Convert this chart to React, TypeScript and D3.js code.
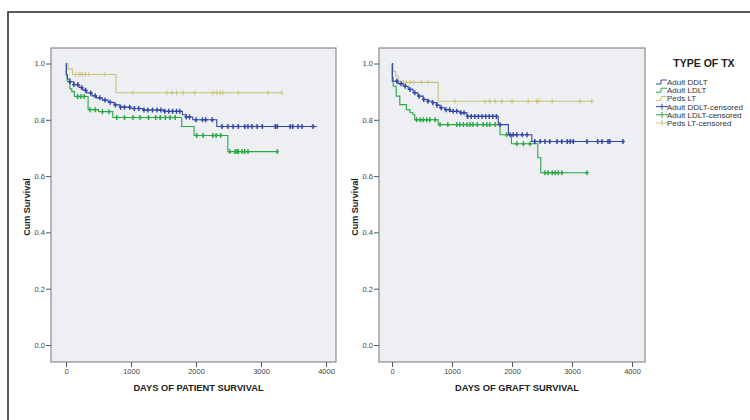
import React, { useEffect, useRef } from "react";
import * as d3 from "d3";

// group labels / colours
const groups = ["Adult DDLT", "Adult LDLT", "Peds LT"];
const colors = ["#3346a8", "#2aa845", "#c9c27a"];
const xTicks = [0, 1000, 2000, 3000, 4000];
const yTicks = [0, 0.2, 0.4, 0.6, 0.8, 1.0];

// patient survival: step points [day, survival], last point is end of follow-up
const patientDDLT = [[0, 1], [5, 0.96], [20, 0.945], [60, 0.935], [120, 0.925], [200, 0.915], [260, 0.905], [320, 0.895], [400, 0.885], [470, 0.878], [560, 0.87], [650, 0.862], [740, 0.853], [830, 0.845], [1000, 0.84], [1180, 0.835], [1500, 0.83], [1790, 0.818], [1850, 0.81], [1950, 0.8], [2320, 0.776], [3860, 0.776]];
const patientLDLT = [[0, 1], [5, 0.96], [20, 0.935], [60, 0.91], [90, 0.9], [130, 0.883], [340, 0.836], [500, 0.829], [720, 0.808], [1780, 0.776], [1970, 0.744], [2490, 0.687], [3250, 0.687]];
const patientPeds = [[0, 1], [30, 0.98], [100, 0.961], [770, 0.896], [3320, 0.896]];

const patientDDLTcens = [60, 120, 180, 240, 300, 380, 450, 520, 600, 680, 760, 840, 900, 980, 1050, 1120, 1200, 1260, 1330, 1400, 1460, 1520, 1580, 1640, 1700, 1750, 1850, 1900, 2000, 2100, 2150, 2250, 2400, 2490, 2570, 2650, 2750, 2800, 2860, 2940, 3020, 3220, 3250, 3450, 3490, 3570, 3630, 3800];
const patientLDLTcens = [180, 230, 280, 370, 450, 560, 660, 780, 900, 1030, 1140, 1270, 1380, 1450, 1530, 1600, 1680, 2010, 2110, 2260, 2310, 2380, 2520, 2600, 2630, 2650, 2710, 2750, 2800, 3250];
const patientPedsCens = [150, 200, 230, 260, 300, 350, 600, 1030, 1550, 1630, 1700, 1800, 1980, 2260, 2320, 2370, 2410, 2650, 3110, 3320];

// graft survival
const graftDDLT = [[0, 1], [5, 0.937], [100, 0.928], [190, 0.919], [270, 0.908], [350, 0.896], [430, 0.884], [520, 0.872], [600, 0.866], [680, 0.861], [750, 0.852], [800, 0.843], [880, 0.836], [970, 0.83], [1130, 0.825], [1250, 0.812], [1770, 0.783], [1940, 0.747], [2330, 0.723], [3850, 0.723]];
const graftLDLT = [[0, 1], [5, 0.95], [20, 0.919], [70, 0.884], [130, 0.854], [240, 0.836], [300, 0.825], [350, 0.818], [380, 0.8], [770, 0.783], [1800, 0.747], [1990, 0.715], [2430, 0.665], [2480, 0.612], [3240, 0.612]];
const graftPeds = [[0, 1], [20, 0.972], [60, 0.955], [100, 0.933], [770, 0.866], [3330, 0.866]];

const graftDDLTcens = [80, 150, 220, 300, 380, 450, 530, 600, 680, 750, 820, 900, 960, 1020, 1080, 1150, 1200, 1260, 1320, 1380, 1440, 1500, 1560, 1620, 1680, 1740, 1800, 1970, 2020, 2080, 2170, 2250, 2380, 2470, 2550, 2630, 2750, 2830, 2920, 2970, 3020, 3250, 3430, 3500, 3600, 3630, 3850];
const graftLDLTcens = [410, 470, 520, 580, 630, 720, 800, 930, 1080, 1130, 1190, 1250, 1300, 1350, 1420, 1520, 1580, 1630, 1720, 1910, 2080, 2190, 2300, 2550, 2600, 2670, 2720, 2770, 2830, 3250];
const graftPedsCens = [130, 190, 240, 300, 350, 490, 600, 1050, 1550, 1630, 1720, 1830, 2000, 2270, 2410, 2440, 2670, 3130, 3330];

const panels = [
  { title: "DAYS OF PATIENT SURVIVAL", curves: [patientDDLT, patientLDLT, patientPeds], cens: [patientDDLTcens, patientLDLTcens, patientPedsCens], left: 51, right: 336, x0: 66, x4: 326 },
  { title: "DAYS OF GRAFT SURVIVAL", curves: [graftDDLT, graftLDLT, graftPeds], cens: [graftDDLTcens, graftLDLTcens, graftPedsCens], left: 379, right: 645, x0: 392, x4: 632 },
];

const FONT = "Arial, 'Liberation Sans', sans-serif";

function survivalAt(curve, t) {
  let s = 1;
  for (const p of curve) if (p[0] <= t) s = p[1];
  return s;
}

export default function App() {
  const ref = useRef(null);

  useEffect(() => {
    const svg = d3.select(ref.current);
    svg.selectAll("*").remove();

    // outer frame
    svg.append("rect").attr("x", 8).attr("y", 12).attr("width", 760).attr("height", 430)
      .attr("fill", "#fff").attr("stroke", "#333").attr("stroke-width", 1.6);

    const top = 48, bottom = 362;
    const y = d3.scaleLinear().domain([0, 1]).range([345, 63.5]);

    panels.forEach((p) => {
      const x = d3.scaleLinear().domain([0, 4000]).range([p.x0, p.x4]);
      const g = svg.append("g");

      g.append("rect").attr("x", p.left).attr("y", top).attr("width", p.right - p.left).attr("height", bottom - top)
        .attr("fill", "#edeff2").attr("stroke", "#8a8a8a").attr("stroke-width", 1.2);

      const ya = g.append("g").attr("transform", `translate(${p.left},0)`)
        .call(d3.axisLeft(y).tickValues(yTicks).tickFormat(d3.format(".1f")).tickSize(5).tickPadding(1));
      ya.select(".domain").remove();
      ya.selectAll("line").attr("stroke", "#555");
      ya.selectAll("text").attr("font-family", FONT).attr("font-size", 7.5).attr("fill", "#444");

      const xa = g.append("g").attr("transform", `translate(0,${bottom})`)
        .call(d3.axisBottom(x).tickValues(xTicks).tickFormat(d3.format("d")).tickSize(5).tickPadding(2));
      xa.select(".domain").remove();
      xa.selectAll("line").attr("stroke", "#555");
      xa.selectAll("text").attr("font-family", FONT).attr("font-size", 7.5).attr("fill", "#444");

      g.append("text").attr("x", (p.left + p.right) / 2 + 5).attr("y", 391).attr("text-anchor", "middle")
        .attr("font-family", FONT).attr("font-size", 9.3).attr("font-weight", "bold").attr("fill", "#222").text(p.title);

      g.append("text").attr("transform", `translate(${p.left - 21},207) rotate(-90)`).attr("text-anchor", "middle")
        .attr("font-family", FONT).attr("font-size", 9).attr("font-weight", "bold").attr("fill", "#222").text("Cum Survival");

      const line = d3.line().x(d => x(d[0])).y(d => y(d[1])).curve(d3.curveStepAfter);
      // draw peds first, then LDLT, then DDLT on top
      [2, 1, 0].forEach((k) => {
        g.append("path").attr("d", line(p.curves[k])).attr("fill", "none")
          .attr("stroke", colors[k]).attr("stroke-width", 1.1);
        g.selectAll(null).data(p.cens[k]).join("path")
          .attr("d", t => {
            const cx = x(t), cy = y(survivalAt(p.curves[k], t));
            return `M${cx},${cy - 2.5}V${cy + 2.5}M${cx - 1.8},${cy}H${cx + 1.8}`;
          })
          .attr("stroke", colors[k]).attr("stroke-width", k === 2 ? 0.9 : 1.4).attr("fill", "none");
      });
    });

    // legend
    const lg = svg.append("g");
    lg.append("text").attr("x", 704).attr("y", 67).attr("text-anchor", "middle")
      .attr("font-family", FONT).attr("font-size", 10.5).attr("font-weight", "bold").attr("fill", "#222").text("TYPE OF TX");
    const items = groups.map((name, i) => ({ name, color: colors[i], cens: false }))
      .concat(groups.map((name, i) => ({ name: name + "-censored", color: colors[i], cens: true })));
    const ly = d3.scalePoint().domain(items.map(d => d.name)).range([82, 123]);
    items.forEach((d) => {
      const cy = ly(d.name);
      if (d.cens) {
        lg.append("path").attr("d", `M656,${cy}H668M662,${cy - 3}V${cy + 3}`)
          .attr("stroke", d.color).attr("stroke-width", 1).attr("fill", "none");
      } else {
        lg.append("path").attr("d", `M656,${cy + 2}H661V${cy - 2}H667`)
          .attr("stroke", d.color).attr("stroke-width", 1).attr("fill", "none");
      }
      lg.append("text").attr("x", 667).attr("y", cy + 3).attr("font-family", FONT).attr("font-size", 8)
        .attr("fill", "#333").text(d.name);
    });
  }, []);

  return (
    <svg ref={ref} width={750} height={420}
      style={{ position: "absolute", left: 0, top: 0, background: "#fff" }} />
  );
}
